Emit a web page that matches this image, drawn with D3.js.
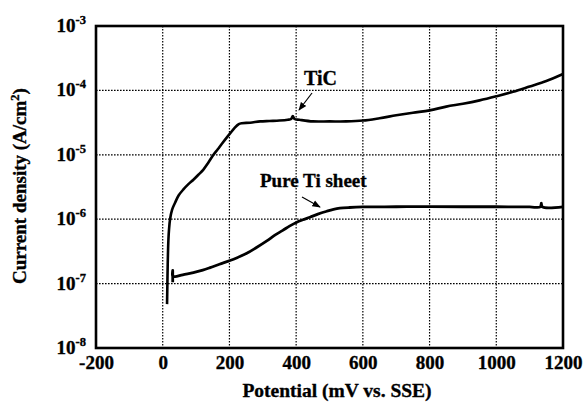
<!DOCTYPE html>
<html>
<head>
<meta charset="utf-8">
<script src="https://cdn.jsdelivr.net/npm/d3@7"></script>
<style>
body { margin: 0; background: #fff; }
text { font-family: "Liberation Serif", "Times New Roman", serif; font-weight: bold; fill: #000; stroke: #000; stroke-width: 0.35px; }
</style>
</head>
<body>
<svg width="584" height="403"></svg>
<script>
// potential (mV vs SSE) and current density (A/cm2)
var ticPotential = [13, 14, 15, 17, 19, 22, 28, 37, 48, 62, 77, 92, 107, 122, 137, 152, 165, 178, 190, 202, 215, 228, 237, 262, 292, 320, 350, 375, 385, 390, 395, 410, 450, 500, 550, 600, 650, 700, 750, 800, 850, 900, 950, 1000, 1050, 1100, 1150, 1200];
var ticCurrent = [4.8e-8, 1e-7, 2e-7, 4.7e-7, 7e-7, 1e-6, 1.4e-6, 1.8e-6, 2.35e-6, 2.9e-6, 3.5e-6, 4.1e-6, 4.9e-6, 5.9e-6, 7.6e-6, 1e-5, 1.22e-5, 1.5e-5, 1.8e-5, 2.15e-5, 2.6e-5, 3e-5, 3.1e-5, 3.15e-5, 3.3e-5, 3.35e-5, 3.4e-5, 3.5e-5, 3.6e-5, 4e-5, 3.6e-5, 3.5e-5, 3.3e-5, 3.3e-5, 3.3e-5, 3.4e-5, 3.7e-5, 4.1e-5, 4.5e-5, 4.9e-5, 5.6e-5, 6.2e-5, 7e-5, 8.1e-5, 9.5e-5, 1.15e-4, 1.4e-4, 1.8e-4];

var tiPotential = [30, 30, 30, 37, 60, 92, 120, 142, 170, 202, 225, 252, 280, 312, 335, 360, 380, 402, 420, 441, 465, 492, 512, 531, 560, 600, 700, 800, 900, 1000, 1100, 1132, 1135, 1138, 1200];
var tiCurrent = [1.05e-7, 1.6e-7, 1.3e-7, 1.28e-7, 1.37e-7, 1.48e-7, 1.62e-7, 1.77e-7, 2e-7, 2.28e-7, 2.55e-7, 2.95e-7, 3.6e-7, 4.6e-7, 5.6e-7, 6.7e-7, 7.8e-7, 9e-7, 9.8e-7, 1.07e-6, 1.2e-6, 1.33e-6, 1.42e-6, 1.48e-6, 1.52e-6, 1.55e-6, 1.56e-6, 1.57e-6, 1.56e-6, 1.56e-6, 1.55e-6, 1.55e-6, 1.78e-6, 1.55e-6, 1.55e-6];

var xTicks = [-200, 0, 200, 400, 600, 800, 1000, 1200];
var yExponents = [-3, -4, -5, -6, -7, -8];

var svg = d3.select("svg");
var pLeft = 96, pRight = 563, pTop = 26, pBottom = 348;

var x = d3.scaleLinear().domain([-200, 1200]).range([pLeft, pRight]);
var y = d3.scaleLog().domain([1e-8, 1e-3]).range([pBottom, pTop]);

// grid
var grid = svg.append("g").attr("stroke", "#000").attr("stroke-width", 1.2).attr("stroke-dasharray", "1.6,1.4");
grid.selectAll(".gx").data(xTicks.slice(1, -1)).enter().append("line")
  .attr("x1", d => x(d)).attr("x2", d => x(d)).attr("y1", pTop).attr("y2", pBottom);
grid.selectAll(".gy").data(yExponents.slice(1, -1)).enter().append("line")
  .attr("y1", d => y(Math.pow(10, d))).attr("y2", d => y(Math.pow(10, d))).attr("x1", pLeft).attr("x2", pRight);

// x axis
var xAxis = svg.append("g").attr("transform", "translate(0," + pBottom + ")")
  .call(d3.axisBottom(x).tickValues(xTicks).tickSize(0).tickPadding(8).tickFormat(d => String(d)));
xAxis.select(".domain").remove();
xAxis.selectAll("text").style("font-family", "Liberation Serif").style("font-weight", "bold").style("font-size", "19px");

// y axis labels with superscripts
var yl = svg.append("g").selectAll("text").data(yExponents).enter().append("text")
  .attr("x", 86).attr("y", d => y(Math.pow(10, d)) + 6)
  .attr("text-anchor", "end").style("font-size", "19px");
yl.append("tspan").text("10");
yl.append("tspan").attr("dy", -8).style("font-size", "12.5px").text(d => "-" + Math.abs(d));

// frame
svg.append("rect").attr("x", pLeft).attr("y", pTop).attr("width", pRight - pLeft).attr("height", pBottom - pTop)
  .attr("fill", "none").attr("stroke", "#000").attr("stroke-width", 2.6);

var line = d3.line().x(d => x(d[0])).y(d => y(d[1])).curve(d3.curveCatmullRom.alpha(0.5));

svg.append("path").datum(d3.zip(ticPotential, ticCurrent))
  .attr("d", line).attr("fill", "none").attr("stroke", "#000").attr("stroke-width", 2.6)
  .attr("stroke-linejoin", "round");
svg.append("path").datum(d3.zip(tiPotential, tiCurrent))
  .attr("d", line).attr("fill", "none").attr("stroke", "#000").attr("stroke-width", 2.8)
  .attr("stroke-linejoin", "round");

// annotations
svg.append("defs").append("marker").attr("id", "ah").attr("viewBox", "0 0 10 10")
  .attr("refX", 9).attr("refY", 5).attr("markerWidth", 7).attr("markerHeight", 7).attr("orient", "auto")
  .append("path").attr("d", "M0,1 L10,5 L0,9 Z").attr("fill", "#000");

svg.append("text").attr("x", 304).attr("y", 85).style("font-size", "20px").text("TiC");
svg.append("line").attr("x1", 312).attr("y1", 93).attr("x2", 299).attr("y2", 110)
  .attr("stroke", "#000").attr("stroke-width", 1.2).attr("marker-end", "url(#ah)");

svg.append("text").attr("x", 260).attr("y", 187).style("font-size", "19px").text("Pure Ti sheet");
svg.append("line").attr("x1", 302).attr("y1", 197).attr("x2", 320).attr("y2", 207)
  .attr("stroke", "#000").attr("stroke-width", 1.2).attr("marker-end", "url(#ah)");

// axis titles
svg.append("text").attr("x", 337).attr("y", 397).attr("text-anchor", "middle").style("font-size", "19.5px")
  .text("Potential (mV vs. SSE)");
var yt = svg.append("text").attr("transform", "translate(26,186) rotate(-90)").attr("text-anchor", "middle")
  .style("font-size", "19px");
yt.append("tspan").text("Current density (A/cm");
yt.append("tspan").attr("dy", -7).style("font-size", "12.5px").text("2");
yt.append("tspan").attr("dy", 7).text(")");
</script>
</body>
</html>
